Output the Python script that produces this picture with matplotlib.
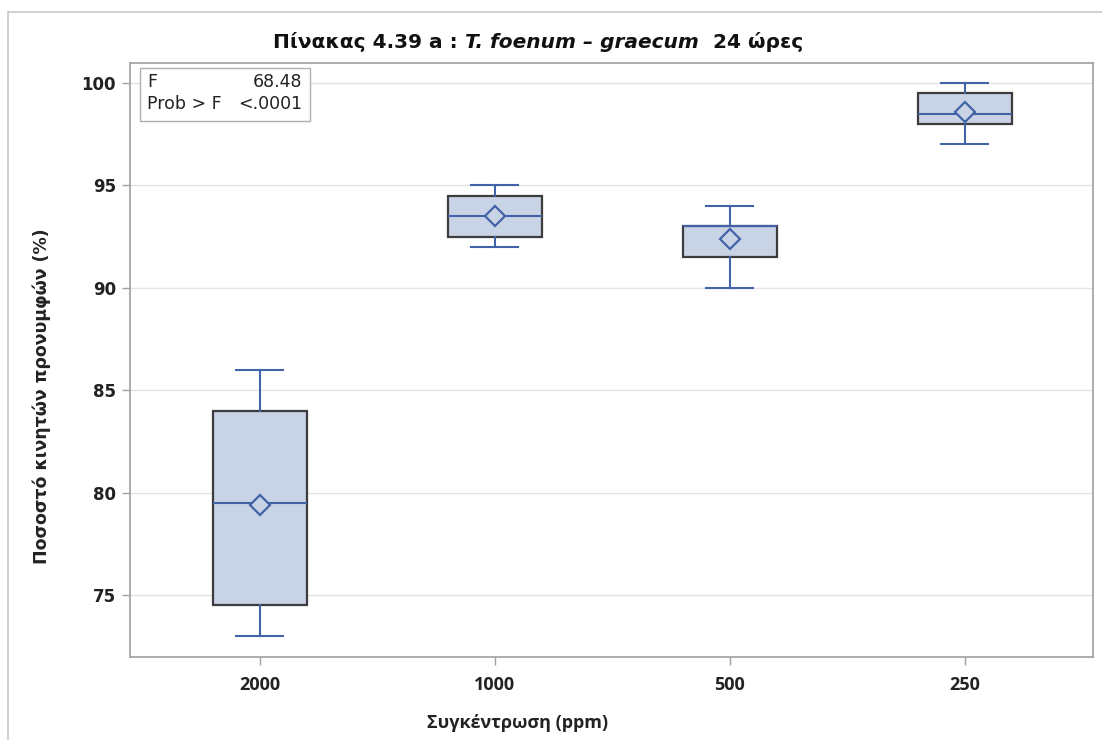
import matplotlib
matplotlib.use("Agg")
import matplotlib.pyplot as plt
from matplotlib.lines import Line2D
from matplotlib.patches import Rectangle

# Five-number summaries and means per concentration group
categories = ["2000", "1000", "500", "250"]
whisker_low = [73.0, 92.0, 90.0, 97.0]
q1 = [74.5, 92.5, 91.5, 98.0]
median = [79.5, 93.5, 93.0, 98.5]
q3 = [84.0, 94.5, 93.0, 99.5]
whisker_high = [86.0, 95.0, 94.0, 100.0]
means = [79.4, 93.5, 92.4, 98.6]
y_ticks = [75, 80, 85, 90, 95, 100]

f_value = "68.48"
p_value = "<.0001"

W, H = 1102, 740
fig = plt.figure(figsize=(W / 100, H / 100), dpi=100)
fig.patch.set_facecolor("white")

ax = fig.add_axes([130 / W, 1 - 657 / H, (1093 - 130) / W, (657 - 63) / H])

box_face = "#c9d3e6"
box_edge = "#3d3d3d"
blue = "#4263a8"

stats = []
for i in range(len(categories)):
    stats.append(dict(whislo=whisker_low[i], q1=q1[i], med=median[i],
                      q3=q3[i], whishi=whisker_high[i], mean=means[i],
                      fliers=[]))

positions = list(range(len(categories)))
ax.bxp(stats, positions=positions, widths=0.40,
       showmeans=True, patch_artist=True,
       boxprops=dict(facecolor=box_face, edgecolor=box_edge, linewidth=1.6),
       medianprops=dict(color=blue, linewidth=1.5),
       whiskerprops=dict(color=blue, linewidth=1.5),
       capprops=dict(color=blue, linewidth=1.5),
       capwidths=0.20,
       meanprops=dict(marker="D", markersize=10.5, markerfacecolor=box_face,
                      markeredgecolor=blue, markeredgewidth=1.6),
       zorder=3)

ax.set_xlim(-0.553, 3.545)
ax.set_ylim(71.97, 100.98)
ax.set_yticks(y_ticks)
ax.set_xticks(positions)
ax.set_xticklabels(categories)

ax.grid(axis="y", color="#e4e4e4", linewidth=1.0, zorder=0)
ax.set_axisbelow(True)
for sp in ax.spines.values():
    sp.set_color("#a0a0a0")
    sp.set_linewidth(1.2)

ax.tick_params(axis="y", length=6, width=1, color="#a0a0a0", pad=4,
               labelsize=12, labelcolor="#222222")
ax.tick_params(axis="x", length=6, width=1, color="#a0a0a0", pad=8,
               labelsize=13, labelcolor="#222222")
for lab in ax.get_yticklabels():
    lab.set_fontfamily(["DejaVu Sans"])
    lab.set_fontweight("bold")
for lab in ax.get_xticklabels():
    lab.set_fontfamily(["Open Sans", "DejaVu Sans"])
    lab.set_fontweight("bold")

# Axis titles
fig.text(518 / W, 1 - 723 / H, "Συγκέντρωση (ppm)", ha="center", va="center",
         fontsize=13, fontweight="bold", color="#222222",
         family=["Open Sans", "DejaVu Sans"])
fig.text(42 / W, 1 - 396 / H, "Ποσοστό κινητών προνυμφών (%)", ha="center",
         va="center", rotation=90, fontsize=12.5, fontweight="bold",
         color="#222222", family=["DejaVu Sans"])

# Statistics inset
inset_l, inset_t, inset_r, inset_b = 140, 68, 310, 121
fig.patches.append(Rectangle((inset_l / W, 1 - inset_b / H),
                             (inset_r - inset_l) / W, (inset_b - inset_t) / H,
                             transform=fig.transFigure, fill=True,
                             facecolor="white", edgecolor="#b0b0b0",
                             linewidth=1.0, zorder=5))
stat_font = dict(fontsize=12.5, color="#222222", family=["DejaVu Sans"],
                 va="center", zorder=6)
fig.text(147 / W, 1 - 82 / H, "F", ha="left", **stat_font)
fig.text(302 / W, 1 - 82 / H, f_value, ha="right", **stat_font)
fig.text(147 / W, 1 - 104 / H, "Prob > F", ha="left", **stat_font)
fig.text(302 / W, 1 - 104 / H, p_value, ha="right", **stat_font)

# Outer frame lines
fig.add_artist(Line2D([8 / W, 8 / W], [0, 1 - 12 / H], transform=fig.transFigure,
                      color="#c8c8c8", linewidth=1.2))
fig.add_artist(Line2D([8 / W, 1], [1 - 12 / H, 1 - 12 / H], transform=fig.transFigure,
                      color="#c8c8c8", linewidth=1.2))

# Title built from upright and italic pieces
title_parts = [("Πίνακας 4.39 a : ", "normal"),
               ("T. foenum – graecum", "italic"),
               ("  24 ώρες", "normal")]
fig.canvas.draw()
renderer = fig.canvas.get_renderer()
texts = []
for s, style in title_parts:
    t = fig.text(0, 1 - 42 / H, s, ha="left", va="center", fontsize=14.5,
                 fontweight="bold", fontstyle=style, color="#111111",
                 family=["DejaVu Sans"])
    texts.append(t)
widths = [t.get_window_extent(renderer).width for t in texts]
x = 538 - sum(widths) / 2
for t, w in zip(texts, widths):
    t.set_x(x / W)
    x += w

fig.savefig("out.png", dpi=100, facecolor="white")
